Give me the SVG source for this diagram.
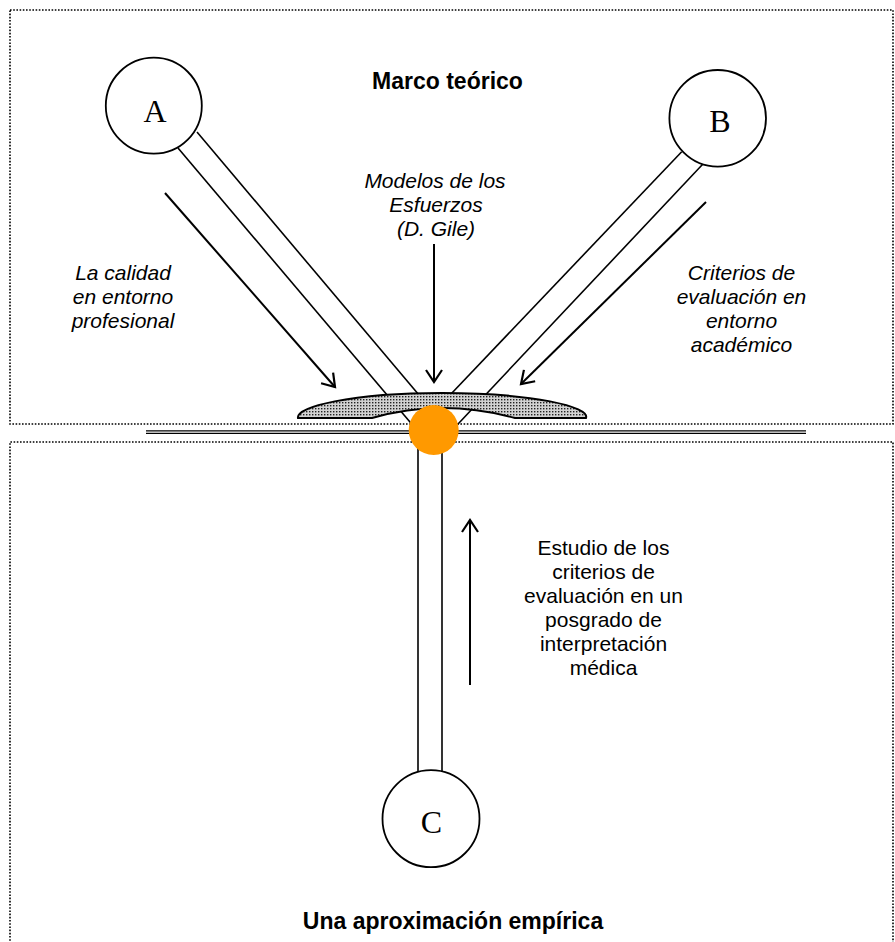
<svg xmlns="http://www.w3.org/2000/svg" width="895" height="942" viewBox="0 0 895 942">
<defs>
<style>
.box{fill:none;stroke:#000;stroke-width:1.6;stroke-dasharray:1.6 1.6}
.tube{fill:none;stroke:#000;stroke-width:1.6}
.arr{fill:none;stroke:#000;stroke-width:2;marker-end:url(#ah)}
.node{fill:#fff;stroke:#000;stroke-width:1.8}
.letter{font-family:"Liberation Serif","Times New Roman",serif;font-size:32px;text-anchor:middle;fill:#000}
.title{font-family:"Liberation Sans",Arial,sans-serif;font-size:23px;font-weight:bold;text-anchor:middle;fill:#000}
.it{font-family:"Liberation Sans",Arial,sans-serif;font-size:21px;font-style:italic;text-anchor:middle;fill:#000}
.rg{font-family:"Liberation Sans",Arial,sans-serif;font-size:21px;text-anchor:middle;fill:#000}
</style>
<marker id="ah" markerUnits="userSpaceOnUse" markerWidth="30" markerHeight="30" viewBox="-15 -15 30 30" refX="0" refY="0" orient="auto">
<path d="M-12,-8 L0,0 L-12,8" fill="none" stroke="#000" stroke-width="2.2"/>
</marker>
<pattern id="dots" width="3" height="3" patternUnits="userSpaceOnUse">
<rect width="3" height="3" fill="#d2d2d2"/>
<rect x="0" y="0" width="1.4" height="1.4" fill="#222"/>
</pattern>
</defs>

<g id="frames">
<rect class="box" x="10" y="10" width="883" height="414"/>
<path class="box" d="M10,960 L10,442 L893,442 L893,960"/>
</g>

<g id="connectors">
<line class="tube" x1="178" y1="148" x2="418" y2="431.5"/>
<line class="tube" x1="197" y1="132" x2="419" y2="395"/>
<line class="tube" x1="681.7" y1="151.7" x2="451" y2="394"/>
<line class="tube" x1="702.7" y1="164.3" x2="442" y2="441"/>
<line class="tube" x1="418" y1="440" x2="418" y2="773"/>
<line class="tube" x1="442" y1="440" x2="442" y2="773"/>
<line x1="146" y1="430.8" x2="806" y2="430.8" stroke="#000" stroke-width="1.2"/>
<line x1="146" y1="433.4" x2="806" y2="433.4" stroke="#000" stroke-width="1.2"/>
<line class="arr" x1="165" y1="193" x2="335" y2="387"/>
<line class="arr" x1="434" y1="244" x2="434" y2="382"/>
<line class="arr" x1="706" y1="202" x2="521" y2="384"/>
<line class="arr" x1="470" y1="685" x2="470" y2="520"/>
</g>

<g id="lens">
<path d="M298,418 C296,407 350,393 442,393 C534,393 590,407 586,418 L515,418 Q442,398 372,418 Z" fill="url(#dots)" stroke="#000" stroke-width="2"/>
</g>

<g id="hub">
<circle cx="433.7" cy="430" r="25" fill="#FF9900"/>
</g>

<g id="nodeA">
<circle class="node" cx="153.8" cy="105.7" r="48"/>
<text class="letter" x="155" y="122">A</text>
</g>
<g id="nodeB">
<circle class="node" cx="717.7" cy="118.3" r="48.3"/>
<text class="letter" x="720" y="132">B</text>
</g>
<g id="nodeC">
<circle class="node" cx="431" cy="818.7" r="48.5"/>
<text class="letter" x="431.5" y="833">C</text>
</g>

<g id="labels">
<text class="title" x="447.5" y="89">Marco teórico</text>
<text class="it" x="435" y="187.5">Modelos de los</text>
<text class="it" x="436" y="211.5">Esfuerzos</text>
<text class="it" x="436" y="235.5">(D. Gile)</text>
<text class="it" x="123" y="280">La calidad</text>
<text class="it" x="123" y="304">en entorno</text>
<text class="it" x="123" y="328">profesional</text>
<text class="it" x="741.5" y="280">Criterios de</text>
<text class="it" x="741.5" y="304">evaluación en</text>
<text class="it" x="741.5" y="328">entorno</text>
<text class="it" x="741.5" y="352">académico</text>
<text class="rg" x="603.5" y="555">Estudio de los</text>
<text class="rg" x="603.5" y="579">criterios de</text>
<text class="rg" x="603.5" y="603">evaluación en un</text>
<text class="rg" x="603.5" y="627">posgrado de</text>
<text class="rg" x="603.5" y="651">interpretación</text>
<text class="rg" x="603.5" y="675">médica</text>
<text class="title" x="453" y="929">Una aproximación empírica</text>
</g>
</svg>
